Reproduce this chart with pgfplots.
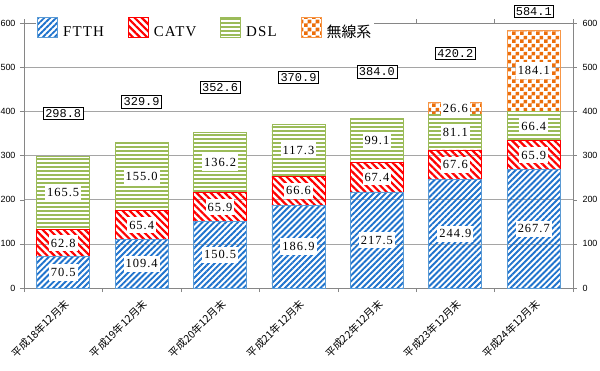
\documentclass[border=0pt]{standalone}
\usepackage{fontspec}
\setmainfont{Liberation Sans}
\newfontfamily\jp{Noto Sans CJK JP}
\newfontfamily\legserif{Liberation Serif}[LetterSpace=8]
\newfontfamily\labmono{Liberation Mono}
\usepackage{pgfplots}
\usepackage{pgfplotstable}
\pgfplotsset{compat=1.18}
\usetikzlibrary{patterns,patterns.meta}
\pgfdeclarepatternformonly{checker}{\pgfqpoint{0bp}{0bp}}{\pgfqpoint{8bp}{8bp}}{\pgfqpoint{8bp}{8bp}}{%
  \pgfpathrectangle{\pgfqpoint{0bp}{0bp}}{\pgfqpoint{4bp}{4bp}}%
  \pgfpathrectangle{\pgfqpoint{4bp}{4bp}}{\pgfqpoint{4bp}{4bp}}%
  \pgfusepath{fill}}
\definecolor{ftthc}{RGB}{31,115,205}
\definecolor{ftthb}{RGB}{91,155,213}
\definecolor{catvc}{RGB}{255,0,0}
\definecolor{dslc}{RGB}{155,187,89}
\definecolor{wlc}{RGB}{236,110,10}
\definecolor{wlb}{RGB}{247,150,70}
\definecolor{gridgray}{RGB}{165,165,165}
\definecolor{axisgray}{RGB}{134,134,134}

\pgfplotstableread{
x ftth catv dsl wl
0 70.5 62.8 165.5 0.0
1 109.4 65.4 155.0 0.1
2 150.5 65.9 136.2 0.0
3 186.9 66.6 117.3 0.1
4 217.5 67.4 99.1 0.0
5 244.9 67.6 81.1 26.6
6 267.7 65.9 66.4 184.1
}\datatab

\pgfplotstableread{
x y lab
0 396 298.8
1 422 329.9
2 454 352.6
3 477 370.9
4 490 384.0
5 531 420.2
6 627 584.1
}\totaltab

\begin{document}
\begin{tikzpicture}
\pgfplotsset{
  common/.style={
    scale only axis, width=549bp, height=265bp,
    xmin=-0.5, xmax=6.5, ymin=0, ymax=600,
    ytick={0,100,...,600},
    tick align=outside,
    major tick length=4bp, minor tick length=4bp,
    /pgf/number format/assume math mode=true,
    yticklabel style={font=\fontsize{9}{10}\selectfont},
    axis line style={axisgray},
    tick style={axisgray},
  },
}
\begin{axis}[
  common,
  ybar stacked, bar width=53bp,
  xtick={0,...,6},
  xticklabels={平成18年12月末,平成19年12月末,平成20年12月末,平成21年12月末,平成22年12月末,平成23年12月末,平成24年12月末},
  xticklabel style={font=\jp\fontsize{10.5}{11}\selectfont, xshift=4bp, yshift=-10bp, rotate=45, anchor=east, inner sep=0pt},
  major x tick style={draw=none},
  minor xtick={-0.5,0.5,...,6.5},
  ymajorgrids, grid style={gridgray, line width=0.6bp},
  yticklabel style={xshift=-1bp},
  legend image code/.code={\draw[#1, line width=0.8bp] (0bp,-5bp) rectangle (20bp,15bp);},
  legend columns=4,
  legend style={draw=none, fill=white, at={(0.022,0.978)}, anchor=west,
    font=\fontsize{15}{16}\selectfont, inner sep=1bp,
    /tikz/every even column/.append style={column sep=22bp},
    /tikz/every odd column/.append style={column sep=3bp}},
]
\addplot[draw=ftthb, line width=0.8bp, pattern={Lines[angle=45,distance=4.2bp,line width=1.9bp]}, pattern color=ftthc]
  table[x=x, y=ftth] {\datatab};
\addplot[draw=catvc, line width=0.8bp, pattern={Lines[angle=-45,distance=5bp,line width=2.2bp]}, pattern color=catvc]
  table[x=x, y=catv] {\datatab};
\addplot[draw=dslc, line width=0.8bp, pattern={Lines[angle=0,distance=4bp,line width=1.7bp]}, pattern color=dslc]
  table[x=x, y=dsl] {\datatab};
\addplot[draw=wlb, line width=0.8bp, pattern=checker, pattern color=wlc]
  table[x=x, y=wl] {\datatab};
\legend{{\legserif FTTH},{\legserif CATV},{\legserif DSL},{\jp 無線系}}
\end{axis}

\begin{axis}[
  common,
  axis x line=none, axis y line*=right,
  yticklabel style={xshift=2bp},
  clip=false,
  lab/.style={only marks, mark=*, mark size=0pt, nodes near coords, point meta=explicit symbolic,
    every node near coord/.append style={anchor=center, fill=white, inner xsep=2bp, inner ysep=4bp,
      font=\legserif\fontsize{12.5}{13}\selectfont, text=black}},
]
\addplot[lab] table[x=x, y expr=\thisrow{ftth}/2, meta=ftth] {\datatab};
\addplot[lab] table[x=x, y expr=\thisrow{ftth}+\thisrow{catv}/2, meta=catv] {\datatab};
\addplot[lab] table[x=x, y expr=\thisrow{ftth}+\thisrow{catv}+\thisrow{dsl}/2, meta=dsl] {\datatab};
\addplot[lab, skip coords between index={0}{5}] table[x=x, y expr=\thisrow{ftth}+\thisrow{catv}+\thisrow{dsl}+\thisrow{wl}/2, meta=wl] {\datatab};
\addplot[lab, every node near coord/.append style={draw=black, line width=0.6bp, inner xsep=2bp, inner ysep=2.2bp, font=\labmono\fontsize{12}{13}\selectfont}] table[x=x, y=y, meta=lab] {\totaltab};
\end{axis}
\pgfresetboundingbox
\useasboundingbox (-24bp,-83bp) rectangle (576bp,288bp);
\end{tikzpicture}
\end{document}
